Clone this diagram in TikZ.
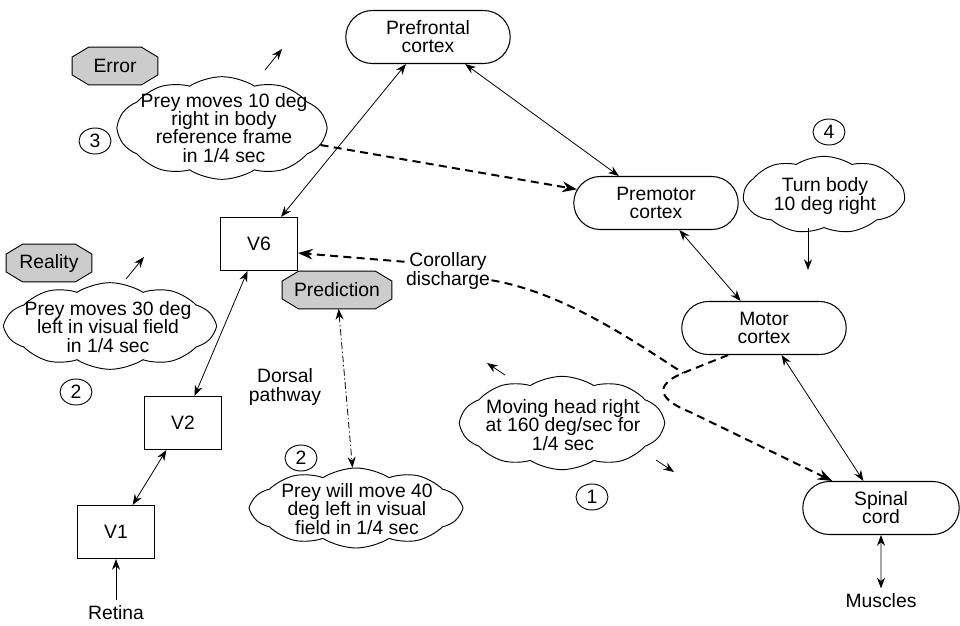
\documentclass[tikz,border=0pt]{standalone}
\usepackage{fontspec}
\setmainfont{Liberation Sans}
\usetikzlibrary{positioning,shapes.misc,shapes.symbols,shapes.geometric,arrows.meta}
\definecolor{tagfill}{gray}{0.8}
\pgfdeclarelayer{back}
\pgfsetlayers{back,main}

\tikzset{
  every node/.style={font=\fontsize{14.5}{13.6}\selectfont},
  cortex/.style={draw, rounded rectangle, line width=0.8pt, minimum width=130pt, minimum height=39.75pt, align=center},
  area/.style={draw, rectangle, line width=0.8pt, minimum width=57.75pt, minimum height=39.75pt},
  thought/.style={draw, cloud, cloud puffs=10, cloud puff arc=65, cloud ignores aspect, line width=0.7pt, inner sep=0pt},
  tag/.style={minimum width=64pt, minimum height=28pt, inner sep=1pt},
  tagline/.style={draw=black, fill=tagfill, line width=0.7pt},
  stage/.style={draw, ellipse, minimum width=24pt, minimum height=19.5pt, inner sep=0pt, line width=0.7pt},
  link/.style={{Stealth[length=8pt,width=6pt]}-{Stealth[length=8pt,width=6pt]}, line width=0.6pt},
  cue/.style={-{Stealth[length=8pt,width=6pt]}, line width=0.6pt},
  efference/.style={line width=1.5pt, dash pattern=on 6pt off 4pt, -{Stealth[length=11pt,width=8pt]}},
  copyline/.style={line width=1.5pt, dash pattern=on 6pt off 4pt},
  predict/.style={line width=0.6pt, dash pattern=on 5pt off 2pt on 1pt off 2pt, {Stealth[length=8pt,width=6pt]}-{Stealth[length=8pt,width=6pt]}}
}

\begin{document}
\begin{tikzpicture}[x=0.75pt, y=-0.75pt]
  \useasboundingbox (0,0) rectangle (960,625);

  % cortical stations
  \node[cortex] (prefrontal) at (428,37) {Prefrontal\\cortex};
  \node[cortex] (premotor) at (656,203) {Premotor\\cortex};
  \node[cortex] (motor) at (764,328) {Motor\\cortex};
  \node[cortex, minimum width=124pt] (spinal) at (881,508) {Spinal\\cord};
  \node (muscles) [below=40pt of spinal] {Muscles};

  % visual areas
  \node[area] (v6) at (259,244) {V6};
  \node[area] (v2) at (183,423) {V2};
  \node[area] (v1) at (116,532) {V1};
  \node (retina) [below=31pt of v1] {Retina};

  % thoughts
  \node[thought, minimum width=156pt, minimum height=77pt] (errcloud) at (222,128) {};
  \node[align=center] (errtext) at (224,128) {Prey moves 10 deg\\right in body\\reference frame\\in 1/4 sec};
  \node[thought, minimum width=157pt, minimum height=65pt] (realcloud) at (110,326) {};
  \node[align=center] (realtext) at (108,327) {Prey moves 30 deg\\left in visual field\\in 1/4 sec};
  \node[thought, minimum width=157pt, minimum height=60pt] (predcloud) at (356,508) {};
  \node[align=center] (predtext) at (357,509) {Prey will move 40\\deg left in visual\\field in 1/4 sec};
  \node[thought, minimum width=152pt, minimum height=70pt] (headcloud) at (562,423) {};
  \node[align=center] (headtext) at (563,425) {Moving head right\\at 160 deg/sec for\\1/4 sec};
  \node[thought, cloud puffs=9, minimum width=120pt, minimum height=58pt] (turncloud) at (824,195) {};
  \node[align=center] (turntext) at (825,196) {Turn body\\10 deg right};

  % tags
  \node[tag] (error) at (115,66) {Error};
  \node[tag] (reality) at (49,263) {Reality};
  \node[tag, minimum width=82pt] (prediction) at (337,290) {Prediction};
  \begin{pgfonlayer}{back}
    \foreach \t in {error,reality,prediction}
      \filldraw[tagline] ([xshift=12.5pt]\t.north west) -- ([xshift=-12.5pt]\t.north east)
        -- ([yshift=-7.5pt]\t.north east) -- ([yshift=7.5pt]\t.south east)
        -- ([xshift=-12.5pt]\t.south east) -- ([xshift=12.5pt]\t.south west)
        -- ([yshift=7.5pt]\t.south west) -- ([yshift=-7.5pt]\t.north west) -- cycle;
  \end{pgfonlayer}

  % step numbers
  \node[stage] (s3) at (95,141) {3};
  \node[stage] (s2a) at (76,392) {2};
  \node[stage] (s2b) at (301,458) {2};
  \node[stage] (s1) at (592,497) {1};
  \node[stage] (s4) at (829,132) {4};

  % labels
  \node[align=center, inner sep=1pt] (corollary) at (448,271) {Corollary\\discharge};
  \node[align=center] (dorsal) at (285,387) {Dorsal\\pathway};

  % free ends
  \coordinate (junction) at (683,373);
  \coordinate (errtail) at (265,70);
  \coordinate (errhead) at (282,49);
  \coordinate (realtail) at (126,279);
  \coordinate (realhead) at (144,257);
  \coordinate (headtail) at (505,375);
  \coordinate (headhead) at (487,363);
  \coordinate (bodytail) at (656,460);
  \coordinate (bodyhead) at (674,472);
  \coordinate (turnend) at (808,270);

  % connections
  \draw[link] (v6) -- (prefrontal);
  \draw[link] (prefrontal) -- (premotor);
  \draw[link] (premotor) -- (motor);
  \draw[link] (motor) -- (spinal);
  \draw[link] (spinal) -- (muscles);
  \draw[link] (v2) -- (v6);
  \draw[link] (v1) -- (v2);
  \draw[cue] (retina) -- (v1);
  \draw[predict] (prediction) -- (predcloud);
  \draw[efference] (errcloud) -- (premotor);
  \draw[efference] (motor.217) -- (junction) .. controls (652,386) and (660,400) .. (690,412) -- (spinal.151);
  \draw[copyline] (corollary.-12) .. controls (560,292) and (625,335) .. (junction);
  \draw[efference] (corollary.168) -- (v6.-13);
  \draw[cue] (turnend |- turncloud.south) -- (turnend);
  \draw[cue] (errtail) -- (errhead);
  \draw[cue] (realtail) -- (realhead);
  \draw[cue] (headtail) -- (headhead);
  \draw[cue] (bodytail) -- (bodyhead);
\end{tikzpicture}
\end{document}
